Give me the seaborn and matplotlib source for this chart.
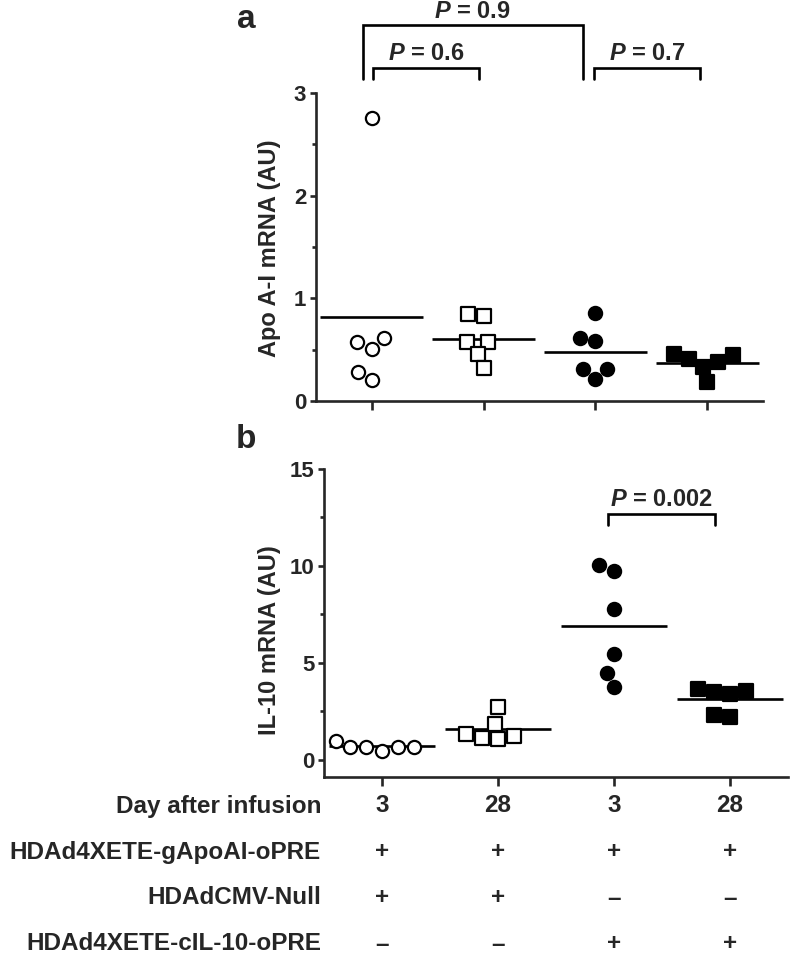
import matplotlib
matplotlib.use("Agg")
import matplotlib.pyplot as plt
import matplotlib.transforms as mtransforms
from matplotlib.ticker import MultipleLocator
from matplotlib import font_manager
import numpy as np
import pandas as pd
import seaborn as sns

# ---------------- data ----------------
groups = ["ApoAI+Null d3", "ApoAI+Null d28", "ApoAI+IL10 d3", "ApoAI+IL10 d28"]

apo_g1 = [2.76, 0.575, 0.51, 0.61, 0.20, 0.28]
apo_g2 = [0.83, 0.85, 0.575, 0.575, 0.46, 0.32]
apo_g3 = [0.86, 0.61, 0.58, 0.31, 0.31, 0.21]
apo_g4 = [0.46, 0.41, 0.33, 0.38, 0.45, 0.185]

il_g1 = [0.67, 0.67, 0.46, 0.67, 0.67, 0.98]
il_g2 = [1.86, 2.73, 1.24, 1.08, 1.13, 1.34]
il_g3 = [10.05, 9.74, 7.78, 5.46, 4.48, 3.76]
il_g4 = [3.66, 3.50, 3.40, 3.56, 2.20, 2.30]

day_labels = ["3", "28", "3", "28"]
row_apoai = ["+", "+", "+", "+"]
row_null = ["+", "+", "\u2013", "\u2013"]
row_il10 = ["\u2013", "\u2013", "+", "+"]
row_names = ["Day after infusion", "HDAd4XETE-gApoAI-oPRE",
             "HDAdCMV-Null", "HDAd4XETE-cIL-10-oPRE"]

p_a = ["P = 0.9", "P = 0.6", "P = 0.7"]
p_b = "P = 0.002"

dfA = pd.DataFrame({"group": np.repeat(groups, 6),
                    "value": apo_g1 + apo_g2 + apo_g3 + apo_g4})
dfB = pd.DataFrame({"group": np.repeat(groups, 6),
                    "value": il_g1 + il_g2 + il_g3 + il_g4})

# ---------------- style ----------------
sns.set_style("ticks")
avail = {f.name for f in font_manager.fontManager.ttflist}
base = "Liberation Sans" if "Liberation Sans" in avail else "DejaVu Sans"
plt.rcParams["font.family"] = [base, "DejaVu Sans"]
plt.rcParams["font.weight"] = "bold"
plt.rcParams["mathtext.fontset"] = "custom"
plt.rcParams["mathtext.it"] = f"{base}:italic:bold"
plt.rcParams["mathtext.rm"] = f"{base}:bold"
plt.rcParams["axes.linewidth"] = 1.9

fig = plt.figure(figsize=(7.92, 9.58), dpi=100)
W, H = 792, 958
axA = fig.add_axes([316 / W, 1 - 401 / H, (763 - 316) / W, (401 - 93) / H])
axB = fig.add_axes([324 / W, 1 - 777 / H, (788 - 324) / W, (777 - 469) / H])

styles = [dict(marker="o", color="white", size=9.5),
          dict(marker="s", color="white", size=9.5),
          dict(marker="o", color="black", size=9.5),
          dict(marker="s", color="black", size=9.5)]

TICK_FS = 16
for ax, df in [(axA, dfA), (axB, dfB)]:
    for g, st in zip(groups, styles):
        sns.swarmplot(data=df[df["group"] == g], x="group", y="value",
                      order=groups, marker=st["marker"], color=st["color"],
                      edgecolor="black", linewidth=1.6, size=st["size"],
                      ax=ax, zorder=3, clip_on=False, warn_thresh=1)
    means = df.groupby("group", sort=False)["value"].mean().reindex(groups)
    for i, m in enumerate(means):
        ax.hlines(m, i - 0.46, i + 0.46, color="black", lw=1.9, zorder=2)
    sns.despine(ax=ax)
    ax.set_xlim(-0.5, 3.5)
    ax.set_xticks(range(4))
    ax.set_xticklabels([])
    ax.set_xlabel("")
    ax.tick_params(axis="both", which="major", length=4.5, width=1.9,
                   labelsize=TICK_FS, direction="out", pad=2.5)
    ax.tick_params(axis="x", which="major", length=6.5)
    ax.tick_params(axis="y", which="minor", length=3, width=1.9)

# panel a axes
axA.set_ylim(0, 3)
axA.set_yticks([0, 1, 2, 3])
axA.yaxis.set_minor_locator(MultipleLocator(0.5))
axA.set_ylabel("Apo A-I mRNA (AU)", fontsize=17, fontweight="bold")
axA.yaxis.set_label_coords(-0.078, 0.497)

# panel b axes
axB.set_ylim(-0.9, 15)
axB.set_yticks([0, 5, 10, 15])
axB.yaxis.set_minor_locator(MultipleLocator(2.5))
axB.set_ylabel("IL-10 mRNA (AU)", fontsize=17, fontweight="bold")
axB.yaxis.set_label_coords(-0.093, 0.445)

for ax in (axA, axB):
    for lab in ax.get_yticklabels():
        lab.set_fontweight("bold")


def pfmt(s):
    return "$P$" + s[1:]


def bracket(ax, x0, x1, ytop, ybot, lw=1.9):
    ax.plot([x0, x0, x1, x1], [ybot, ytop, ytop, ybot], color="black",
            lw=lw, clip_on=False, solid_joinstyle="miter")

P_FS = 17
# brackets panel a
bracket(axA, -0.08, 1.89, 3.66, 3.135)
bracket(axA, 0.01, 0.96, 3.24, 3.135)
bracket(axA, 1.99, 2.94, 3.24, 3.135)
axA.text(0.90, 3.79, pfmt(p_a[0]), ha="center", va="center", fontsize=P_FS,
         fontweight="bold", clip_on=False)
axA.text(0.49, 3.38, pfmt(p_a[1]), ha="center", va="center", fontsize=P_FS,
         fontweight="bold", clip_on=False)
axA.text(2.46, 3.38, pfmt(p_a[2]), ha="center", va="center", fontsize=P_FS,
         fontweight="bold", clip_on=False)

# bracket panel b
bracket(axB, 1.95, 2.87, 12.7, 12.1)
axB.text(2.41, 13.45, pfmt(p_b), ha="center", va="center", fontsize=P_FS,
         fontweight="bold")

# panel letters
fig.text(246 / W, 1 - 20 / H, "a", fontsize=24, fontweight="bold",
         ha="center", va="center")
fig.text(246 / W, 1 - 440 / H, "b", fontsize=24, fontweight="bold",
         ha="center", va="center")

# table below panel b
TAB_FS = 17.5
trans = mtransforms.blended_transform_factory(axB.transData, fig.transFigure)
row_y = [806, 852, 898, 944]
rows = [day_labels, row_apoai, row_null, row_il10]
for name, y, vals in zip(row_names, row_y, rows):
    fig.text(321 / W, 1 - y / H, name, ha="right", va="center",
             fontsize=TAB_FS, fontweight="bold")
    for i, v in enumerate(vals):
        axB.text(i, 1 - y / H, v, transform=trans, ha="center", va="center",
                 fontsize=TAB_FS, fontweight="bold", clip_on=False)

fig.savefig("out.png", dpi=100)
